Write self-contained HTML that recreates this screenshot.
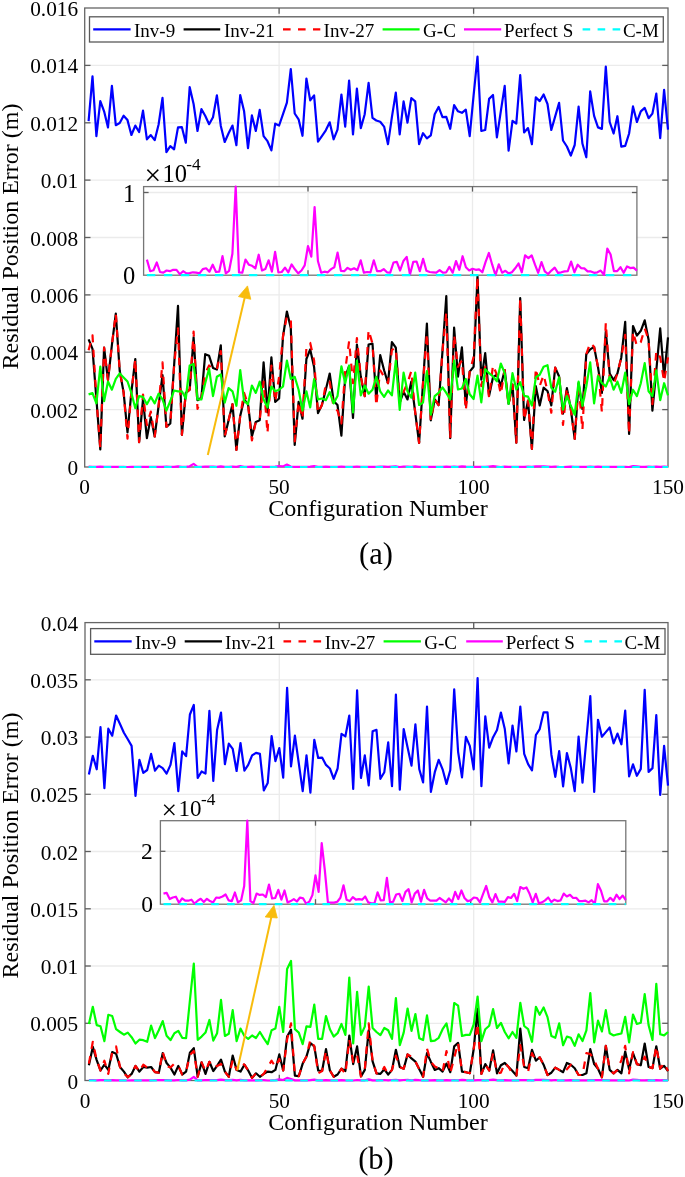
<!DOCTYPE html>
<html><head><meta charset="utf-8"><style>
html,body{margin:0;padding:0;background:#fff;}
svg{display:block;will-change:transform;}
.t{opacity:0.999;}
text{font-family:"Liberation Serif", serif;fill:#000;}
.tl{font-size:21.3px;}
.sup{font-size:17.3px;}
.xx{font-size:29.5px;}
.ten{font-size:24.5px;}
.al{font-size:24px;}
.cap{font-size:30.5px;}
.lg{font-size:19px;}
.g{stroke:#ebebeb;stroke-width:1.3;}
.fr{fill:none;stroke:#666;stroke-width:1.3;}
.ifr .fr{stroke:#767676;}
.lbox{fill:#fff;stroke:#5a5a5a;stroke-width:1.3;}
.tk{stroke:#5e5e5e;stroke-width:1.3;}
.ln{fill:none;stroke-width:2.2;stroke-linejoin:round;}
</style></head><body>
<svg width="685" height="1177" viewBox="0 0 685 1177">
<rect x="84.7" y="8" width="583.3" height="459" fill="#fff"/>
<line x1="84.7" y1="409.6" x2="668" y2="409.6" class="g"/>
<line x1="84.7" y1="352.2" x2="668" y2="352.2" class="g"/>
<line x1="84.7" y1="294.9" x2="668" y2="294.9" class="g"/>
<line x1="84.7" y1="237.5" x2="668" y2="237.5" class="g"/>
<line x1="84.7" y1="180.1" x2="668" y2="180.1" class="g"/>
<line x1="84.7" y1="122.8" x2="668" y2="122.8" class="g"/>
<line x1="84.7" y1="65.4" x2="668" y2="65.4" class="g"/>
<line x1="279.1" y1="8" x2="279.1" y2="467" class="g"/>
<line x1="473.6" y1="8" x2="473.6" y2="467" class="g"/>
<rect x="84.7" y="8" width="583.3" height="459.0" class="fr"/>
<line x1="84.7" y1="409.6" x2="90.5" y2="409.6" class="tk"/>
<line x1="668" y1="409.6" x2="662.2" y2="409.6" class="tk"/>
<line x1="84.7" y1="352.2" x2="90.5" y2="352.2" class="tk"/>
<line x1="668" y1="352.2" x2="662.2" y2="352.2" class="tk"/>
<line x1="84.7" y1="294.9" x2="90.5" y2="294.9" class="tk"/>
<line x1="668" y1="294.9" x2="662.2" y2="294.9" class="tk"/>
<line x1="84.7" y1="237.5" x2="90.5" y2="237.5" class="tk"/>
<line x1="668" y1="237.5" x2="662.2" y2="237.5" class="tk"/>
<line x1="84.7" y1="180.1" x2="90.5" y2="180.1" class="tk"/>
<line x1="668" y1="180.1" x2="662.2" y2="180.1" class="tk"/>
<line x1="84.7" y1="122.8" x2="90.5" y2="122.8" class="tk"/>
<line x1="668" y1="122.8" x2="662.2" y2="122.8" class="tk"/>
<line x1="84.7" y1="65.4" x2="90.5" y2="65.4" class="tk"/>
<line x1="668" y1="65.4" x2="662.2" y2="65.4" class="tk"/>
<line x1="279.1" y1="467" x2="279.1" y2="461.2" class="tk"/>
<line x1="279.1" y1="8" x2="279.1" y2="13.8" class="tk"/>
<line x1="473.6" y1="467" x2="473.6" y2="461.2" class="tk"/>
<line x1="473.6" y1="8" x2="473.6" y2="13.8" class="tk"/>
<polyline points="88.6,121.1 92.5,76.3 96.4,136.1 100.3,101.1 104.1,111.3 108.0,127.4 111.9,85.8 115.8,125.2 119.7,123.0 123.6,115.7 127.5,120.1 131.4,135.0 135.3,125.6 139.1,132.0 143.0,110.6 146.9,139.3 150.8,135.1 154.7,140.2 158.6,124.5 162.5,97.9 166.4,152.2 170.3,146.1 174.1,149.3 178.0,127.4 181.9,127.2 185.8,142.7 189.7,87.2 193.6,104.0 197.5,131.0 201.4,109.1 205.2,115.7 209.1,124.2 213.0,117.2 216.9,95.3 220.8,125.9 224.7,142.0 228.6,133.2 232.5,125.6 236.4,145.2 240.2,95.0 244.1,111.3 248.0,148.1 251.9,115.4 255.8,131.0 259.7,109.9 263.6,136.1 267.5,141.2 271.4,150.4 275.2,123.7 279.1,125.5 283.0,114.2 286.9,102.6 290.8,69.0 294.7,113.5 298.6,119.3 302.5,135.8 306.4,78.5 310.2,100.4 314.1,95.3 318.0,141.7 321.9,136.1 325.8,130.3 329.7,122.3 333.6,139.3 337.5,129.6 341.4,94.5 345.2,126.6 349.1,80.7 353.0,134.4 356.9,88.7 360.8,128.1 364.7,114.2 368.6,82.8 372.5,117.9 376.3,120.5 380.2,121.8 384.1,126.6 388.0,144.2 391.9,117.2 395.8,92.6 399.7,134.4 403.6,101.4 407.5,122.7 411.3,98.2 415.2,101.4 419.1,144.2 423.0,133.2 426.9,138.3 430.8,135.4 434.7,114.2 438.6,106.9 442.5,117.2 446.3,116.9 450.2,128.8 454.1,105.2 458.0,111.3 461.9,112.8 465.8,109.6 469.7,136.1 473.6,95.3 477.5,56.6 481.3,131.0 485.2,130.0 489.1,98.9 493.0,95.0 496.9,137.3 500.8,111.3 504.7,85.8 508.6,150.7 512.5,120.8 516.3,123.7 520.2,75.1 524.1,132.5 528.0,128.1 531.9,144.2 535.8,97.4 539.7,101.1 543.6,94.5 547.5,104.0 551.3,130.0 555.2,116.4 559.1,102.8 563.0,140.5 566.9,146.5 570.8,155.5 574.7,145.0 578.6,106.7 582.4,143.5 586.3,157.3 590.2,91.4 594.1,115.9 598.0,127.4 601.9,128.9 605.8,66.6 609.7,122.0 613.6,133.5 617.4,116.2 621.3,146.6 625.2,145.8 629.1,133.5 633.0,106.4 636.9,122.0 640.8,111.3 644.7,107.9 648.6,118.2 652.4,113.6 656.3,93.7 660.2,138.1 664.1,89.9 668.0,129.7" class="ln" stroke="#0000ff"/>
<polyline points="88.6,339.4 92.5,348.9 96.4,399.2 100.3,449.5 104.1,347.6 108.0,380.2 111.9,345.0 115.8,313.6 119.7,370.7 123.6,392.4 127.5,432.5 131.4,392.0 135.3,359.0 139.1,442.1 143.0,399.4 146.9,438.1 150.8,417.1 154.7,436.5 158.6,405.8 162.5,375.2 166.4,426.8 170.3,423.5 174.1,365.5 178.0,305.8 181.9,434.8 185.8,392.9 189.7,389.7 193.6,337.3 197.5,400.2 201.4,397.7 205.2,354.2 209.1,355.8 213.0,367.9 216.9,369.5 220.8,345.3 224.7,436.5 228.6,420.3 232.5,404.2 236.4,450.0 240.2,416.0 244.1,399.4 248.0,404.2 251.9,436.5 255.8,421.9 259.7,420.3 263.6,362.3 267.5,412.3 271.4,357.4 275.2,401.8 279.1,398.5 283.0,336.5 286.9,311.5 290.8,328.0 294.7,445.0 298.6,401.8 302.5,418.7 306.4,359.0 310.2,349.4 314.1,367.1 318.0,413.1 321.9,405.0 325.8,389.7 329.7,373.5 333.6,401.0 337.5,405.0 341.4,435.6 345.2,376.8 349.1,366.0 353.0,417.9 356.9,344.5 360.8,376.8 364.7,396.1 368.6,344.5 372.5,343.7 376.3,399.4 380.2,355.0 384.1,370.3 388.0,383.2 391.9,342.1 395.8,347.7 399.7,402.5 403.6,391.8 407.5,399.4 411.3,381.6 415.2,412.3 419.1,442.9 423.0,383.2 426.9,323.5 430.8,420.3 434.7,399.4 438.6,405.0 442.5,351.0 446.3,296.1 450.2,438.1 454.1,327.5 458.0,376.6 461.9,347.4 465.8,405.5 469.7,371.6 473.6,366.8 477.5,276.5 481.3,379.7 485.2,353.1 489.1,395.8 493.0,377.3 496.9,374.8 500.8,386.1 504.7,370.0 508.6,403.9 512.5,384.5 516.3,442.6 520.2,298.2 524.1,420.0 528.0,400.6 531.9,449.0 535.8,386.1 539.7,405.5 543.6,387.7 547.5,391.0 551.3,405.5 555.2,367.6 559.1,376.5 563.0,413.7 566.9,388.1 570.8,409.0 574.7,438.9 578.6,383.2 582.4,409.0 586.3,354.2 590.2,349.4 594.1,346.9 598.0,367.1 601.9,392.9 605.8,331.6 609.7,373.5 613.6,380.0 617.4,373.5 621.3,357.4 625.2,321.9 629.1,434.0 633.0,326.0 636.9,335.6 640.8,330.8 644.7,320.3 648.6,339.7 652.4,410.6 656.3,370.3 660.2,328.4 664.1,376.8 668.0,337.3" class="ln" stroke="#000"/>
<polyline points="88.6,350.3 92.5,335.3 96.4,399.2 100.3,448.0 104.1,347.6 108.0,380.2 111.9,345.0 115.8,313.6 119.7,370.7 123.6,392.4 127.5,438.6 131.4,392.0 135.3,359.0 139.1,442.1 143.0,394.5 146.9,425.2 150.8,411.5 154.7,436.5 158.6,405.8 162.5,362.3 166.4,426.8 170.3,423.5 174.1,365.5 178.0,328.4 181.9,434.8 185.8,392.9 189.7,389.7 193.6,331.6 197.5,409.0 201.4,397.7 205.2,373.5 209.1,365.5 213.0,369.0 216.9,369.5 220.8,351.0 224.7,436.5 228.6,420.3 232.5,404.2 236.4,450.0 240.2,416.0 244.1,392.9 248.0,404.2 251.9,440.5 255.8,421.9 259.7,420.3 263.6,381.6 267.5,433.2 271.4,365.5 275.2,401.8 279.1,376.8 283.0,336.5 286.9,316.3 290.8,319.5 294.7,441.3 298.6,401.8 302.5,418.7 306.4,347.7 310.2,342.9 314.1,360.6 318.0,413.1 321.9,405.0 325.8,384.8 329.7,381.6 333.6,407.4 337.5,410.6 341.4,423.5 345.2,370.3 349.1,341.3 353.0,383.2 356.9,338.1 360.8,376.8 364.7,396.1 368.6,330.0 372.5,343.7 376.3,405.8 380.2,370.3 384.1,376.8 388.0,383.2 391.9,350.0 395.8,347.7 399.7,402.5 403.6,391.8 407.5,383.2 411.3,371.1 415.2,412.3 419.1,442.9 423.0,383.2 426.9,333.2 430.8,420.3 434.7,399.4 438.6,405.0 442.5,351.0 446.3,312.3 450.2,438.1 454.1,334.8 458.0,366.8 461.9,360.3 465.8,410.3 469.7,371.6 473.6,357.1 477.5,276.5 481.3,386.1 485.2,366.8 489.1,397.4 493.0,365.2 496.9,374.8 500.8,394.2 504.7,370.0 508.6,405.5 512.5,384.5 516.3,442.6 520.2,298.2 524.1,420.0 528.0,400.6 531.9,449.0 535.8,368.4 539.7,386.1 543.6,374.8 547.5,391.0 551.3,412.7 555.2,367.6 559.1,376.5 563.0,424.8 566.9,388.1 570.8,409.0 574.7,438.9 578.6,383.2 582.4,430.0 586.3,354.2 590.2,342.9 594.1,346.9 598.0,367.1 601.9,412.3 605.8,322.7 609.7,380.0 613.6,384.8 617.4,373.5 621.3,357.4 625.2,334.8 629.1,434.0 633.0,331.6 636.9,346.1 640.8,342.1 644.7,328.4 648.6,339.7 652.4,404.2 656.3,351.0 660.2,357.4 664.1,381.6 668.0,357.4" class="ln" stroke="#ff0000" stroke-dasharray="7.6 7.4"/>
<polyline points="88.6,394.4 92.5,393.1 96.4,403.3 100.3,366.6 104.1,401.2 108.0,381.5 111.9,389.7 115.8,378.8 119.7,373.4 123.6,377.4 127.5,381.5 131.4,392.9 135.3,408.2 139.1,396.1 143.0,396.9 146.9,404.2 150.8,396.9 154.7,403.4 158.6,393.7 162.5,399.4 166.4,410.6 170.3,401.0 174.1,390.5 178.0,391.3 181.9,391.3 185.8,398.5 189.7,365.5 193.6,363.9 197.5,399.4 201.4,399.4 205.2,383.2 209.1,368.7 213.0,396.1 216.9,376.8 220.8,374.4 224.7,402.6 228.6,388.1 232.5,391.3 236.4,405.8 240.2,370.0 244.1,401.0 248.0,404.2 251.9,385.6 255.8,392.9 259.7,381.6 263.6,399.4 267.5,407.4 271.4,386.5 275.2,391.3 279.1,389.7 283.0,386.5 286.9,360.6 290.8,378.8 294.7,376.8 298.6,389.7 302.5,410.6 306.4,391.3 310.2,407.4 314.1,379.2 318.0,399.4 321.9,398.5 325.8,400.2 329.7,392.1 333.6,403.4 337.5,396.1 341.4,366.3 345.2,383.2 349.1,365.5 353.0,412.3 356.9,360.6 360.8,395.3 364.7,385.6 368.6,393.7 372.5,389.7 376.3,376.8 380.2,391.3 384.1,396.9 388.0,390.5 391.9,395.3 395.8,360.6 399.7,409.8 403.6,372.7 407.5,391.3 411.3,397.7 415.2,372.7 419.1,405.0 423.0,402.6 426.9,371.1 430.8,414.7 434.7,396.1 438.6,392.9 442.5,387.3 446.3,392.9 450.2,399.4 454.1,360.5 458.0,389.5 461.9,388.5 465.8,378.9 469.7,394.2 473.6,399.0 477.5,375.6 481.3,402.3 485.2,369.2 489.1,373.2 493.0,376.5 496.9,381.3 500.8,363.5 504.7,373.2 508.6,403.9 512.5,373.2 516.3,389.4 520.2,382.1 524.1,395.8 528.0,396.6 531.9,405.5 535.8,377.3 539.7,374.8 543.6,366.8 547.5,365.2 551.3,387.7 555.2,391.8 559.1,377.3 563.0,409.7 566.9,396.1 570.8,405.8 574.7,414.7 578.6,381.6 582.4,405.8 586.3,386.5 590.2,362.3 594.1,403.4 598.0,376.0 601.9,383.2 605.8,386.5 609.7,376.8 613.6,389.7 617.4,381.6 621.3,392.9 625.2,372.7 629.1,404.2 633.0,389.7 636.9,396.1 640.8,383.2 644.7,363.1 648.6,391.3 652.4,396.1 656.3,370.3 660.2,400.2 664.1,383.2 668.0,395.3" class="ln" stroke="#00ff00"/>
<polyline points="88.6,466.5 92.5,466.9 96.4,466.8 100.3,466.6 104.1,466.9 108.0,466.9 111.9,466.8 115.8,466.9 119.7,466.8 123.6,466.8 127.5,467.0 131.4,466.9 135.3,466.9 139.1,466.9 143.0,466.9 146.9,466.9 150.8,466.9 154.7,466.8 158.6,466.8 162.5,466.9 166.4,466.6 170.3,466.9 174.1,466.9 178.0,466.3 181.9,466.9 185.8,466.8 189.7,466.3 193.6,463.9 197.5,466.9 201.4,466.9 205.2,466.5 209.1,466.6 213.0,466.7 216.9,466.8 220.8,466.3 224.7,466.8 228.6,466.8 232.5,466.5 236.4,466.9 240.2,466.2 244.1,466.9 248.0,466.9 251.9,466.7 255.8,466.9 259.7,466.6 263.6,466.8 267.5,466.9 271.4,466.8 275.2,466.7 279.1,466.0 283.0,466.4 286.9,464.6 290.8,466.5 294.7,466.9 298.6,466.9 302.5,466.9 306.4,466.8 310.2,466.7 314.1,466.2 318.0,466.8 321.9,466.9 325.8,466.7 329.7,466.8 333.6,466.8 337.5,466.8 341.4,466.5 345.2,466.9 349.1,466.9 353.0,466.9 356.9,466.5 360.8,466.9 364.7,466.9 368.6,466.8 372.5,466.9 376.3,466.9 380.2,466.6 384.1,466.5 388.0,466.8 391.9,466.5 395.8,466.4 399.7,467.0 403.6,466.5 407.5,466.5 411.3,466.9 415.2,466.4 419.1,466.8 423.0,466.9 426.9,466.9 430.8,466.9 434.7,466.8 438.6,466.9 442.5,466.9 446.3,466.7 450.2,466.9 454.1,466.5 458.0,466.8 461.9,466.3 465.8,466.7 469.7,466.8 473.6,466.8 477.5,466.8 481.3,466.8 485.2,466.9 489.1,466.5 493.0,466.2 496.9,466.6 500.8,467.0 504.7,466.6 508.6,466.9 512.5,466.8 516.3,466.9 520.2,466.9 524.1,466.8 528.0,466.6 531.9,466.9 535.8,466.3 539.7,466.4 543.6,466.3 547.5,466.6 551.3,466.9 555.2,466.5 559.1,466.9 563.0,467.0 566.9,466.8 570.8,466.7 574.7,466.9 578.6,466.9 582.4,466.9 586.3,466.9 590.2,466.5 594.1,466.9 598.0,466.6 601.9,466.8 605.8,466.8 609.7,466.9 613.6,466.9 617.4,466.9 621.3,466.9 625.2,466.8 629.1,467.0 633.0,466.1 636.9,466.3 640.8,466.9 644.7,466.9 648.6,466.7 652.4,466.9 656.3,466.7 660.2,466.8 664.1,466.7 668.0,466.8" class="ln" stroke="#ff00ff"/>
<polyline points="88.6,467.0 92.5,467.0 96.4,467.0 100.3,467.0 104.1,467.0 108.0,467.0 111.9,467.0 115.8,467.0 119.7,467.0 123.6,467.0 127.5,467.0 131.4,467.0 135.3,467.0 139.1,467.0 143.0,467.0 146.9,467.0 150.8,467.0 154.7,467.0 158.6,467.0 162.5,467.0 166.4,467.0 170.3,467.0 174.1,467.0 178.0,467.0 181.9,467.0 185.8,467.0 189.7,467.0 193.6,467.0 197.5,467.0 201.4,467.0 205.2,467.0 209.1,467.0 213.0,467.0 216.9,467.0 220.8,467.0 224.7,467.0 228.6,467.0 232.5,467.0 236.4,467.0 240.2,467.0 244.1,467.0 248.0,467.0 251.9,467.0 255.8,467.0 259.7,467.0 263.6,467.0 267.5,467.0 271.4,467.0 275.2,467.0 279.1,467.0 283.0,467.0 286.9,467.0 290.8,467.0 294.7,467.0 298.6,467.0 302.5,467.0 306.4,467.0 310.2,467.0 314.1,467.0 318.0,467.0 321.9,467.0 325.8,467.0 329.7,467.0 333.6,467.0 337.5,467.0 341.4,467.0 345.2,467.0 349.1,467.0 353.0,467.0 356.9,467.0 360.8,467.0 364.7,467.0 368.6,467.0 372.5,467.0 376.3,467.0 380.2,467.0 384.1,467.0 388.0,467.0 391.9,467.0 395.8,467.0 399.7,467.0 403.6,467.0 407.5,467.0 411.3,467.0 415.2,467.0 419.1,467.0 423.0,467.0 426.9,467.0 430.8,467.0 434.7,467.0 438.6,467.0 442.5,467.0 446.3,467.0 450.2,467.0 454.1,467.0 458.0,467.0 461.9,467.0 465.8,467.0 469.7,467.0 473.6,467.0 477.5,467.0 481.3,467.0 485.2,467.0 489.1,467.0 493.0,467.0 496.9,467.0 500.8,467.0 504.7,467.0 508.6,467.0 512.5,467.0 516.3,467.0 520.2,467.0 524.1,467.0 528.0,467.0 531.9,467.0 535.8,467.0 539.7,467.0 543.6,467.0 547.5,467.0 551.3,467.0 555.2,467.0 559.1,467.0 563.0,467.0 566.9,467.0 570.8,467.0 574.7,467.0 578.6,467.0 582.4,467.0 586.3,467.0 590.2,467.0 594.1,467.0 598.0,467.0 601.9,467.0 605.8,467.0 609.7,467.0 613.6,467.0 617.4,467.0 621.3,467.0 625.2,467.0 629.1,467.0 633.0,467.0 636.9,467.0 640.8,467.0 644.7,467.0 648.6,467.0 652.4,467.0 656.3,467.0 660.2,467.0 664.1,467.0 668.0,467.0" class="ln" stroke="#00ffff" stroke-dasharray="7.5 7.6"/>
<rect x="89.5" y="16.8" width="573.8" height="25.2" class="lbox"/>
<line x1="93.2" y1="29.4" x2="130.6" y2="29.4" stroke="#0000ff" stroke-width="2.2"/>
<text x="134.0" y="36.8" class="lg">Inv-9</text>
<line x1="183.6" y1="29.4" x2="220.2" y2="29.4" stroke="#000000" stroke-width="2.2"/>
<text x="224.0" y="36.8" class="lg">Inv-21</text>
<line x1="283" y1="29.4" x2="320.3" y2="29.4" stroke="#ff0000" stroke-width="2.2" stroke-dasharray="7.6 7.4"/>
<text x="323.6" y="36.8" class="lg">Inv-27</text>
<line x1="382.6" y1="29.4" x2="419.6" y2="29.4" stroke="#00ff00" stroke-width="2.2"/>
<text x="423.1" y="36.8" class="lg">G-C</text>
<line x1="464" y1="29.4" x2="501.2" y2="29.4" stroke="#ff00ff" stroke-width="2.2"/>
<text x="504.1" y="36.8" class="lg">Perfect S</text>
<line x1="582.6" y1="29.4" x2="620.3" y2="29.4" stroke="#00ffff" stroke-width="2.2" stroke-dasharray="7.6 7.4"/>
<text x="622.9" y="36.8" class="lg">C-M</text>
<rect x="143.6" y="186.6" width="493.3" height="88.6" fill="#fff"/>
<line x1="143.6" y1="192.5" x2="636.9" y2="192.5" class="g"/>
<line x1="308.0" y1="186.6" x2="308.0" y2="275.2" class="g"/>
<line x1="472.5" y1="186.6" x2="472.5" y2="275.2" class="g"/>
<g class="ifr"><rect x="143.6" y="186.6" width="493.3" height="88.6" class="fr"/>
<line x1="143.6" y1="192.5" x2="148.6" y2="192.5" class="tk"/>
<line x1="636.9" y1="192.5" x2="631.9" y2="192.5" class="tk"/>
<line x1="308.0" y1="275.2" x2="308.0" y2="270.2" class="tk"/>
<line x1="308.0" y1="186.6" x2="308.0" y2="191.6" class="tk"/>
<line x1="472.5" y1="275.2" x2="472.5" y2="270.2" class="tk"/>
<line x1="472.5" y1="186.6" x2="472.5" y2="191.6" class="tk"/></g>
<polyline points="146.9,259.6 150.2,271.2 153.5,270.2 156.8,262.5 160.0,272.0 163.3,272.7 166.6,270.5 169.9,271.2 173.2,269.8 176.5,269.8 179.8,274.2 183.1,271.2 186.4,273.4 189.6,273.1 192.9,272.3 196.2,272.7 199.5,273.4 202.8,269.1 206.1,268.3 209.4,271.7 212.7,264.7 216.0,272.0 219.2,271.7 222.5,256.2 225.8,273.4 229.1,270.8 232.4,253.7 235.7,186.6 239.0,272.5 242.3,272.7 245.5,259.6 248.8,264.7 252.1,265.8 255.4,268.3 258.7,254.7 262.0,270.5 265.3,269.1 268.6,260.3 271.9,271.7 275.1,251.8 278.4,272.3 281.7,272.0 285.0,267.6 288.3,272.3 291.6,264.4 294.9,269.3 298.2,273.4 301.5,270.5 304.7,265.4 308.0,246.0 311.3,256.6 314.6,207.0 317.9,261.0 321.2,272.7 324.5,271.7 327.8,272.3 331.1,269.1 334.3,267.2 337.6,252.6 340.9,270.8 344.2,271.2 347.5,267.9 350.8,269.8 354.1,268.3 357.4,270.2 360.7,260.3 363.9,272.7 367.2,272.0 370.5,272.3 373.8,260.3 377.1,271.2 380.4,271.2 383.7,269.1 387.0,272.3 390.2,272.7 393.5,262.5 396.8,261.8 400.1,270.5 403.4,261.0 406.7,256.9 410.0,274.6 413.3,261.8 416.6,261.5 419.8,271.2 423.1,258.8 426.4,270.8 429.7,272.0 433.0,272.3 436.3,272.7 439.6,270.2 442.9,272.7 446.2,272.3 449.4,266.9 452.7,272.7 456.0,261.0 459.3,269.8 462.6,256.2 465.9,267.3 469.2,270.5 472.5,268.8 475.8,269.8 479.0,269.3 482.3,272.3 485.6,261.8 488.9,253.0 492.2,264.7 495.5,275.2 498.8,264.4 502.1,272.7 505.4,270.8 508.6,273.4 511.9,272.3 515.2,268.3 518.5,263.5 521.8,272.3 525.1,255.3 528.4,258.2 531.7,255.4 535.0,264.7 538.2,272.8 541.5,262.1 544.8,271.4 548.1,274.0 551.4,270.6 554.7,267.7 558.0,272.8 561.3,272.3 564.5,271.4 567.8,271.1 571.1,261.6 574.4,272.3 577.7,264.7 581.0,268.1 584.3,268.4 587.6,271.4 590.9,271.4 594.1,272.8 597.4,272.3 600.7,270.6 604.0,274.8 607.3,248.6 610.6,254.5 613.9,271.1 617.2,271.1 620.5,267.2 623.7,272.8 627.0,266.4 630.3,268.1 633.6,267.7 636.9,270.6" class="ln" stroke="#ff00ff"/>
<polyline points="146.9,275.2 150.2,275.2 153.5,275.2 156.8,275.2 160.0,275.2 163.3,275.2 166.6,275.2 169.9,275.2 173.2,275.2 176.5,275.2 179.8,275.2 183.1,275.2 186.4,275.2 189.6,275.2 192.9,275.2 196.2,275.2 199.5,275.2 202.8,275.2 206.1,275.2 209.4,275.2 212.7,275.2 216.0,275.2 219.2,275.2 222.5,275.2 225.8,275.2 229.1,275.2 232.4,275.2 235.7,275.2 239.0,275.2 242.3,275.2 245.5,275.2 248.8,275.2 252.1,275.2 255.4,275.2 258.7,275.2 262.0,275.2 265.3,275.2 268.6,275.2 271.9,275.2 275.1,275.2 278.4,275.2 281.7,275.2 285.0,275.2 288.3,275.2 291.6,275.2 294.9,275.2 298.2,275.2 301.5,275.2 304.7,275.2 308.0,275.2 311.3,275.2 314.6,275.2 317.9,275.2 321.2,275.2 324.5,275.2 327.8,275.2 331.1,275.2 334.3,275.2 337.6,275.2 340.9,275.2 344.2,275.2 347.5,275.2 350.8,275.2 354.1,275.2 357.4,275.2 360.7,275.2 363.9,275.2 367.2,275.2 370.5,275.2 373.8,275.2 377.1,275.2 380.4,275.2 383.7,275.2 387.0,275.2 390.2,275.2 393.5,275.2 396.8,275.2 400.1,275.2 403.4,275.2 406.7,275.2 410.0,275.2 413.3,275.2 416.6,275.2 419.8,275.2 423.1,275.2 426.4,275.2 429.7,275.2 433.0,275.2 436.3,275.2 439.6,275.2 442.9,275.2 446.2,275.2 449.4,275.2 452.7,275.2 456.0,275.2 459.3,275.2 462.6,275.2 465.9,275.2 469.2,275.2 472.5,275.2 475.8,275.2 479.0,275.2 482.3,275.2 485.6,275.2 488.9,275.2 492.2,275.2 495.5,275.2 498.8,275.2 502.1,275.2 505.4,275.2 508.6,275.2 511.9,275.2 515.2,275.2 518.5,275.2 521.8,275.2 525.1,275.2 528.4,275.2 531.7,275.2 535.0,275.2 538.2,275.2 541.5,275.2 544.8,275.2 548.1,275.2 551.4,275.2 554.7,275.2 558.0,275.2 561.3,275.2 564.5,275.2 567.8,275.2 571.1,275.2 574.4,275.2 577.7,275.2 581.0,275.2 584.3,275.2 587.6,275.2 590.9,275.2 594.1,275.2 597.4,275.2 600.7,275.2 604.0,275.2 607.3,275.2 610.6,275.2 613.9,275.2 617.2,275.2 620.5,275.2 623.7,275.2 627.0,275.2 630.3,275.2 633.6,275.2 636.9,275.2" class="ln" stroke="#00ffff" stroke-dasharray="8.4 8.6"/>
<text x="135.3" y="202.3" text-anchor="end" class="tl" style="font-size:24.5px">1</text>
<text x="135.3" y="284" text-anchor="end" class="tl" style="font-size:24.5px">0</text>
<text x="144.4" y="184.5" class="xx">×</text><text x="162.6" y="181.8" class="ten">10</text><text x="186.2" y="169.8" class="sup">-4</text>
<line x1="207.8" y1="455" x2="245.5" y2="294.3" stroke="#f8bc0c" stroke-width="2"/><polygon points="247.5,285.9 238.5,296.6 250.8,299.3" fill="#f8bc0c" stroke="#f8bc0c" stroke-width="0.8" stroke-linejoin="round"/>
<text x="78.1" y="475.0" text-anchor="end" class="tl">0</text>
<text x="78.1" y="417.6" text-anchor="end" class="tl">0.002</text>
<text x="78.1" y="360.2" text-anchor="end" class="tl">0.004</text>
<text x="78.1" y="302.9" text-anchor="end" class="tl">0.006</text>
<text x="78.1" y="245.5" text-anchor="end" class="tl">0.008</text>
<text x="78.1" y="188.1" text-anchor="end" class="tl">0.01</text>
<text x="78.1" y="130.8" text-anchor="end" class="tl">0.012</text>
<text x="78.1" y="73.4" text-anchor="end" class="tl">0.014</text>
<text x="78.1" y="16.0" text-anchor="end" class="tl">0.016</text>
<text x="84.7" y="493.8" text-anchor="middle" class="tl">0</text>
<text x="279.1" y="493.8" text-anchor="middle" class="tl">50</text>
<text x="473.6" y="493.8" text-anchor="middle" class="tl">100</text>
<text x="668.0" y="493.8" text-anchor="middle" class="tl">150</text>
<text x="378" y="516" text-anchor="middle" class="al">Configuration Number</text>
<text transform="translate(18,236.5) rotate(-90)" text-anchor="middle" class="al">Residual Position Error (m)</text>
<text x="376" y="564" text-anchor="middle" class="cap">(a)</text>
<rect x="85" y="622.6" width="583" height="457.9" fill="#fff"/>
<line x1="85" y1="1023.3" x2="668" y2="1023.3" class="g"/>
<line x1="85" y1="966.0" x2="668" y2="966.0" class="g"/>
<line x1="85" y1="908.8" x2="668" y2="908.8" class="g"/>
<line x1="85" y1="851.5" x2="668" y2="851.5" class="g"/>
<line x1="85" y1="794.3" x2="668" y2="794.3" class="g"/>
<line x1="85" y1="737.1" x2="668" y2="737.1" class="g"/>
<line x1="85" y1="679.8" x2="668" y2="679.8" class="g"/>
<line x1="279.3" y1="622.6" x2="279.3" y2="1080.5" class="g"/>
<line x1="473.7" y1="622.6" x2="473.7" y2="1080.5" class="g"/>
<rect x="85" y="622.6" width="583.0" height="457.9" class="fr"/>
<line x1="85" y1="1023.3" x2="90.8" y2="1023.3" class="tk"/>
<line x1="668" y1="1023.3" x2="662.2" y2="1023.3" class="tk"/>
<line x1="85" y1="966.0" x2="90.8" y2="966.0" class="tk"/>
<line x1="668" y1="966.0" x2="662.2" y2="966.0" class="tk"/>
<line x1="85" y1="908.8" x2="90.8" y2="908.8" class="tk"/>
<line x1="668" y1="908.8" x2="662.2" y2="908.8" class="tk"/>
<line x1="85" y1="851.5" x2="90.8" y2="851.5" class="tk"/>
<line x1="668" y1="851.5" x2="662.2" y2="851.5" class="tk"/>
<line x1="85" y1="794.3" x2="90.8" y2="794.3" class="tk"/>
<line x1="668" y1="794.3" x2="662.2" y2="794.3" class="tk"/>
<line x1="85" y1="737.1" x2="90.8" y2="737.1" class="tk"/>
<line x1="668" y1="737.1" x2="662.2" y2="737.1" class="tk"/>
<line x1="85" y1="679.8" x2="90.8" y2="679.8" class="tk"/>
<line x1="668" y1="679.8" x2="662.2" y2="679.8" class="tk"/>
<line x1="279.3" y1="1080.5" x2="279.3" y2="1074.7" class="tk"/>
<line x1="279.3" y1="622.6" x2="279.3" y2="628.4" class="tk"/>
<line x1="473.7" y1="1080.5" x2="473.7" y2="1074.7" class="tk"/>
<line x1="473.7" y1="622.6" x2="473.7" y2="628.4" class="tk"/>
<polyline points="88.9,774.4 92.8,755.8 96.7,769.3 100.5,727.2 104.4,788.2 108.3,728.7 112.2,735.7 116.1,715.5 120.0,724.0 123.9,732.8 127.8,739.3 131.6,745.9 135.5,795.8 139.4,759.8 143.3,772.9 147.2,770.0 151.1,753.9 155.0,770.7 158.8,765.6 162.7,768.1 166.6,773.6 170.5,764.9 174.4,743.0 178.3,791.2 182.2,751.4 186.1,756.1 189.9,714.5 193.8,705.0 197.7,778.0 201.6,771.5 205.5,773.6 209.4,710.9 213.3,780.9 217.1,729.9 221.0,712.6 224.9,764.2 228.8,743.7 232.7,748.8 236.6,771.0 240.5,743.0 244.4,770.7 248.2,764.9 252.1,755.4 256.0,752.9 259.9,753.9 263.8,790.4 267.7,783.1 271.6,736.0 275.4,761.2 279.3,748.1 283.2,777.7 287.1,687.8 291.0,766.4 294.9,735.7 298.8,763.4 302.7,791.2 306.5,755.4 310.4,792.6 314.3,739.8 318.2,757.9 322.1,757.6 326.0,764.9 329.9,768.5 333.7,778.8 337.6,768.5 341.5,733.9 345.4,736.4 349.3,715.5 353.2,789.0 357.1,690.4 361.0,778.0 364.8,755.4 368.7,785.3 372.6,731.3 376.5,729.8 380.4,778.8 384.3,772.2 388.2,742.3 392.0,786.1 395.9,694.5 399.8,789.7 403.7,729.1 407.6,747.4 411.5,765.6 415.4,724.3 419.3,769.3 423.1,782.4 427.0,706.5 430.9,791.9 434.8,772.2 438.7,759.8 442.6,769.3 446.5,783.9 450.3,770.0 454.2,689.3 458.1,751.8 462.0,777.3 465.9,736.9 469.8,745.9 473.7,769.3 477.6,678.0 481.4,786.1 485.3,716.4 489.2,747.7 493.1,737.2 497.0,729.9 500.9,712.6 504.8,729.1 508.6,763.4 512.5,725.5 516.4,751.5 520.3,706.5 524.2,753.9 528.1,764.2 532.0,770.4 535.9,735.0 539.7,729.1 543.6,712.3 547.5,712.3 551.4,754.7 555.3,776.9 559.2,751.0 563.1,786.5 566.9,753.0 570.8,768.1 574.7,791.1 578.6,736.7 582.5,782.7 586.4,739.0 590.3,696.1 594.2,791.9 598.0,719.8 601.9,736.7 605.8,732.1 609.7,727.5 613.6,743.3 617.5,733.6 621.4,744.3 625.2,710.6 629.1,776.5 633.0,764.3 636.9,775.8 640.8,768.9 644.7,689.9 648.6,771.9 652.5,768.1 656.3,715.2 660.2,794.9 664.1,745.9 668.0,785.7" class="ln" stroke="#0000ff"/>
<polyline points="88.9,1065.3 92.8,1046.9 96.7,1060.1 100.5,1070.5 104.4,1064.7 108.3,1069.9 112.2,1052.1 116.1,1053.8 120.0,1067.0 123.9,1071.6 127.8,1077.3 131.6,1073.9 135.5,1065.9 139.4,1071.6 143.3,1067.0 147.2,1067.6 151.1,1067.0 155.0,1072.2 158.8,1072.7 162.7,1053.2 166.6,1063.0 170.5,1067.6 174.4,1074.5 178.3,1065.9 182.2,1074.5 186.1,1071.6 189.9,1052.7 193.8,1048.1 197.7,1076.8 201.6,1062.4 205.5,1073.9 209.4,1061.8 213.3,1071.0 217.1,1065.9 221.0,1059.6 224.9,1071.6 228.8,1076.8 232.7,1055.5 236.6,1069.9 240.5,1071.6 244.4,1064.7 248.2,1070.5 252.1,1077.9 256.0,1073.3 259.9,1076.8 263.8,1073.9 267.7,1071.6 271.6,1072.2 275.4,1069.9 279.3,1054.4 283.2,1070.5 287.1,1036.6 291.0,1029.7 294.9,1075.6 298.8,1076.2 302.7,1063.6 306.5,1056.4 310.4,1043.2 314.3,1046.4 318.2,1070.5 322.1,1071.0 326.0,1049.2 329.9,1070.5 333.7,1076.8 337.6,1074.5 341.5,1068.7 345.4,1071.0 349.3,1035.5 353.2,1064.1 357.1,1046.4 361.0,1076.5 364.8,1069.9 368.7,1030.3 372.6,1061.3 376.5,1073.3 380.4,1073.9 384.3,1069.3 388.2,1074.5 392.0,1069.9 395.9,1049.8 399.8,1067.0 403.7,1068.7 407.6,1054.4 411.5,1058.4 415.4,1061.6 419.3,1069.3 423.1,1076.8 427.0,1053.2 430.9,1061.9 434.8,1069.9 438.7,1068.2 442.6,1071.6 446.5,1063.6 450.3,1072.2 454.2,1046.4 458.1,1042.9 462.0,1071.6 465.9,1072.2 469.8,1073.3 473.7,1049.0 477.6,1008.5 481.4,1073.9 485.3,1064.1 489.2,1070.5 493.1,1050.4 497.0,1073.3 500.9,1065.3 504.8,1063.0 508.6,1067.0 512.5,1071.0 516.4,1075.6 520.3,1028.6 524.2,1067.0 528.1,1068.2 532.0,1049.8 535.9,1060.7 539.7,1057.3 543.6,1064.7 547.5,1075.0 551.4,1072.7 555.3,1067.6 559.2,1069.9 563.1,1072.2 566.9,1063.0 570.8,1064.7 574.7,1068.2 578.6,1075.0 582.5,1075.0 586.4,1073.3 590.3,1049.2 594.2,1064.1 598.0,1068.7 601.9,1077.3 605.8,1045.8 609.7,1069.9 613.6,1073.3 617.5,1069.9 621.4,1073.3 625.2,1051.5 629.1,1069.3 633.0,1053.0 636.9,1064.1 640.8,1065.3 644.7,1043.5 648.6,1067.0 652.5,1068.1 656.3,1046.3 660.2,1068.7 664.1,1065.8 668.0,1071.0" class="ln" stroke="#000"/>
<polyline points="88.9,1063.6 92.8,1041.8 96.7,1060.1 100.5,1070.5 104.4,1060.7 108.3,1073.9 112.2,1052.1 116.1,1046.4 120.0,1067.0 123.9,1073.3 127.8,1077.3 131.6,1073.9 135.5,1065.9 139.4,1071.6 143.3,1064.7 147.2,1067.6 151.1,1067.0 155.0,1072.2 158.8,1072.7 162.7,1051.5 166.6,1065.9 170.5,1067.6 174.4,1063.6 178.3,1065.9 182.2,1074.5 186.1,1071.6 189.9,1055.0 193.8,1051.0 197.7,1076.8 201.6,1062.4 205.5,1071.0 209.4,1061.8 213.3,1067.6 217.1,1065.9 221.0,1064.0 224.9,1071.6 228.8,1076.8 232.7,1060.1 236.6,1069.9 240.5,1062.4 244.4,1064.7 248.2,1070.5 252.1,1077.9 256.0,1073.3 259.9,1076.8 263.8,1073.9 267.7,1067.0 271.6,1060.7 275.4,1067.0 279.3,1059.0 283.2,1070.5 287.1,1039.5 291.0,1023.4 294.9,1075.6 298.8,1076.2 302.7,1063.6 306.5,1056.4 310.4,1039.5 314.3,1046.4 318.2,1073.3 322.1,1071.0 326.0,1051.0 329.9,1070.5 333.7,1076.8 337.6,1074.5 341.5,1068.7 345.4,1073.9 349.3,1039.5 353.2,1062.0 357.1,1055.5 361.0,1076.5 364.8,1069.9 368.7,1023.4 372.6,1061.3 376.5,1073.3 380.4,1073.9 384.3,1067.0 388.2,1074.5 392.0,1069.9 395.9,1055.5 399.8,1067.0 403.7,1068.7 407.6,1054.4 411.5,1056.7 415.4,1061.6 419.3,1069.3 423.1,1076.8 427.0,1048.7 430.9,1061.9 434.8,1066.4 438.7,1068.2 442.6,1071.6 446.5,1051.0 450.3,1073.3 454.2,1057.8 458.1,1042.9 462.0,1071.6 465.9,1072.2 469.8,1073.3 473.7,1049.0 477.6,1023.4 481.4,1073.9 485.3,1064.1 489.2,1070.5 493.1,1053.2 497.0,1073.3 500.9,1072.7 504.8,1063.0 508.6,1067.0 512.5,1073.9 516.4,1075.6 520.3,1045.2 524.2,1067.0 528.1,1071.6 532.0,1053.2 535.9,1060.7 539.7,1057.3 543.6,1064.7 547.5,1075.0 551.4,1072.7 555.3,1067.6 559.2,1069.9 563.1,1072.2 566.9,1069.3 570.8,1064.7 574.7,1068.2 578.6,1075.0 582.5,1075.0 586.4,1053.2 590.3,1054.0 594.2,1060.0 598.0,1068.7 601.9,1077.3 605.8,1045.8 609.7,1069.9 613.6,1073.3 617.5,1069.9 621.4,1060.1 625.2,1045.8 629.1,1073.3 633.0,1052.1 636.9,1064.1 640.8,1065.3 644.7,1056.7 648.6,1067.0 652.5,1068.1 656.3,1046.3 660.2,1068.7 664.1,1063.0 668.0,1071.0" class="ln" stroke="#ff0000" stroke-dasharray="7.6 7.4"/>
<polyline points="88.9,1024.0 92.8,1006.8 96.7,1025.1 100.5,1026.3 104.4,1041.2 108.3,1014.8 112.2,1016.0 116.1,1029.2 120.0,1032.0 123.9,1034.7 127.8,1032.6 131.6,1037.2 135.5,1043.5 139.4,1039.7 143.3,1040.2 147.2,1041.8 151.1,1025.5 155.0,1038.1 158.8,1030.3 162.7,1021.1 166.6,1035.8 170.5,1040.1 174.4,1033.2 178.3,1030.9 182.2,1037.8 186.1,1038.1 189.9,1000.5 193.8,963.5 197.7,1039.8 201.6,1036.6 205.5,1032.6 209.4,1020.0 213.3,1040.6 217.1,1033.2 221.0,999.9 224.9,1036.0 228.8,1033.7 232.7,1010.2 236.6,1041.2 240.5,1028.6 244.4,1036.0 248.2,1038.9 252.1,1035.5 256.0,1038.0 259.9,1032.0 263.8,1038.3 267.7,1044.1 271.6,1030.3 275.4,1028.6 279.3,1006.8 283.2,1032.0 287.1,968.9 291.0,960.9 294.9,1029.2 298.8,1032.6 302.7,1044.1 306.5,1026.3 310.4,1026.8 314.3,1004.5 318.2,1038.9 322.1,1038.9 326.0,1016.0 329.9,1029.2 333.7,1036.6 337.6,1033.2 341.5,1024.0 345.4,1034.9 349.3,977.5 353.2,1043.5 357.1,991.9 361.0,1034.9 364.8,1026.6 368.7,986.7 372.6,1028.0 376.5,1032.0 380.4,1035.1 384.3,1028.0 388.2,1030.3 392.0,1038.9 395.9,998.2 399.8,1045.2 403.7,1032.6 407.6,1008.5 411.5,1030.9 415.4,1014.0 419.3,1038.3 423.1,1040.1 427.0,1015.4 430.9,1041.2 434.8,1040.6 438.7,1037.8 442.6,1029.2 446.5,1023.4 450.3,1041.2 454.2,1003.0 458.1,1005.6 462.0,1036.0 465.9,1034.9 469.8,1034.9 473.7,1024.5 477.6,996.5 481.4,1041.2 485.3,1029.2 489.2,1025.7 493.1,1009.1 497.0,1028.0 500.9,1022.8 504.8,1032.0 508.6,1038.3 512.5,1032.0 516.4,1037.8 520.3,1002.8 524.2,1026.0 528.1,1029.2 532.0,1041.8 535.9,1006.8 539.7,1014.8 543.6,1007.4 547.5,1017.1 551.4,1036.0 555.3,1037.8 559.2,1023.4 563.1,1045.2 566.9,1036.6 570.8,1037.8 574.7,1045.8 578.6,1034.3 582.5,1041.0 586.4,1030.3 590.3,993.0 594.2,1042.3 598.0,1020.6 601.9,1031.5 605.8,1010.2 609.7,1033.2 613.6,1035.5 617.5,1034.3 621.4,1033.5 625.2,1016.8 629.1,1042.3 633.0,1014.5 636.9,1024.0 640.8,1022.8 644.7,994.2 648.6,1025.1 652.5,1040.0 656.3,983.8 660.2,1034.3 664.1,1035.4 668.0,1032.0" class="ln" stroke="#00ff00"/>
<polyline points="88.9,1080.0 92.8,1080.0 96.7,1080.3 100.5,1080.2 104.4,1080.2 108.3,1080.4 112.2,1080.2 116.1,1080.3 120.0,1080.3 123.9,1080.3 127.8,1080.5 131.6,1080.3 135.5,1080.3 139.4,1080.4 143.3,1080.3 147.2,1080.4 151.1,1080.4 155.0,1080.2 158.8,1080.2 162.7,1080.2 166.6,1080.1 170.5,1080.3 174.4,1080.4 178.3,1080.0 182.2,1080.4 186.1,1080.3 189.9,1079.7 193.8,1076.9 197.7,1080.4 201.6,1080.4 205.5,1080.0 209.4,1080.1 213.3,1080.1 217.1,1080.2 221.0,1079.7 224.9,1080.2 228.8,1080.2 232.7,1079.9 236.6,1080.3 240.5,1079.9 244.4,1080.4 248.2,1080.4 252.1,1080.3 256.0,1080.4 259.9,1080.2 263.8,1080.2 267.7,1080.5 271.6,1080.4 275.4,1080.1 279.3,1079.3 283.2,1080.0 287.1,1077.9 291.0,1079.0 294.9,1080.4 298.8,1080.4 302.7,1080.4 306.5,1080.4 310.4,1080.2 314.3,1079.7 318.2,1080.3 322.1,1080.4 326.0,1080.2 329.9,1080.3 333.7,1080.3 337.6,1080.3 341.5,1080.2 345.4,1080.4 349.3,1080.5 353.2,1080.5 357.1,1080.0 361.0,1080.3 364.8,1080.3 368.7,1079.4 372.6,1080.4 376.5,1080.4 380.4,1080.1 384.3,1080.0 388.2,1080.4 392.0,1080.0 395.9,1079.9 399.8,1080.4 403.7,1080.0 407.6,1079.9 411.5,1080.4 415.4,1079.9 419.3,1080.2 423.1,1080.3 427.0,1080.3 430.9,1080.3 434.8,1080.2 438.7,1080.3 442.6,1080.4 446.5,1080.2 450.3,1080.4 454.2,1080.0 458.1,1080.3 462.0,1079.9 465.9,1080.2 469.8,1080.4 473.7,1080.3 477.6,1080.2 481.4,1080.2 485.3,1080.4 489.2,1080.0 493.1,1079.7 497.0,1080.2 500.9,1080.4 504.8,1080.1 508.6,1080.4 512.5,1080.4 516.4,1080.4 520.3,1080.2 524.2,1080.2 528.1,1080.0 532.0,1080.4 535.9,1079.8 539.7,1079.8 543.6,1079.8 547.5,1080.0 551.4,1080.4 555.3,1080.0 559.2,1080.5 563.1,1080.4 566.9,1080.3 570.8,1080.2 574.7,1080.4 578.6,1080.3 582.5,1080.4 586.4,1080.3 590.3,1080.0 594.2,1080.2 598.0,1080.1 601.9,1080.2 605.8,1080.2 609.7,1080.4 613.6,1080.4 617.5,1080.3 621.4,1080.4 625.2,1080.3 629.1,1080.5 633.0,1079.6 636.9,1079.9 640.8,1080.4 644.7,1080.4 648.6,1080.2 652.5,1080.4 656.3,1080.1 660.2,1080.3 664.1,1080.1 668.0,1080.3" class="ln" stroke="#ff00ff"/>
<polyline points="88.9,1080.5 92.8,1080.5 96.7,1080.5 100.5,1080.5 104.4,1080.5 108.3,1080.5 112.2,1080.5 116.1,1080.5 120.0,1080.5 123.9,1080.5 127.8,1080.5 131.6,1080.5 135.5,1080.5 139.4,1080.5 143.3,1080.5 147.2,1080.5 151.1,1080.5 155.0,1080.5 158.8,1080.5 162.7,1080.5 166.6,1080.5 170.5,1080.5 174.4,1080.5 178.3,1080.5 182.2,1080.5 186.1,1080.5 189.9,1080.5 193.8,1080.5 197.7,1080.5 201.6,1080.5 205.5,1080.5 209.4,1080.5 213.3,1080.5 217.1,1080.5 221.0,1080.5 224.9,1080.5 228.8,1080.5 232.7,1080.5 236.6,1080.5 240.5,1080.5 244.4,1080.5 248.2,1080.5 252.1,1080.5 256.0,1080.5 259.9,1080.5 263.8,1080.5 267.7,1080.5 271.6,1080.5 275.4,1080.5 279.3,1080.5 283.2,1080.5 287.1,1080.5 291.0,1080.5 294.9,1080.5 298.8,1080.5 302.7,1080.5 306.5,1080.5 310.4,1080.5 314.3,1080.5 318.2,1080.5 322.1,1080.5 326.0,1080.5 329.9,1080.5 333.7,1080.5 337.6,1080.5 341.5,1080.5 345.4,1080.5 349.3,1080.5 353.2,1080.5 357.1,1080.5 361.0,1080.5 364.8,1080.5 368.7,1080.5 372.6,1080.5 376.5,1080.5 380.4,1080.5 384.3,1080.5 388.2,1080.5 392.0,1080.5 395.9,1080.5 399.8,1080.5 403.7,1080.5 407.6,1080.5 411.5,1080.5 415.4,1080.5 419.3,1080.5 423.1,1080.5 427.0,1080.5 430.9,1080.5 434.8,1080.5 438.7,1080.5 442.6,1080.5 446.5,1080.5 450.3,1080.5 454.2,1080.5 458.1,1080.5 462.0,1080.5 465.9,1080.5 469.8,1080.5 473.7,1080.5 477.6,1080.5 481.4,1080.5 485.3,1080.5 489.2,1080.5 493.1,1080.5 497.0,1080.5 500.9,1080.5 504.8,1080.5 508.6,1080.5 512.5,1080.5 516.4,1080.5 520.3,1080.5 524.2,1080.5 528.1,1080.5 532.0,1080.5 535.9,1080.5 539.7,1080.5 543.6,1080.5 547.5,1080.5 551.4,1080.5 555.3,1080.5 559.2,1080.5 563.1,1080.5 566.9,1080.5 570.8,1080.5 574.7,1080.5 578.6,1080.5 582.5,1080.5 586.4,1080.5 590.3,1080.5 594.2,1080.5 598.0,1080.5 601.9,1080.5 605.8,1080.5 609.7,1080.5 613.6,1080.5 617.5,1080.5 621.4,1080.5 625.2,1080.5 629.1,1080.5 633.0,1080.5 636.9,1080.5 640.8,1080.5 644.7,1080.5 648.6,1080.5 652.5,1080.5 656.3,1080.5 660.2,1080.5 664.1,1080.5 668.0,1080.5" class="ln" stroke="#00ffff" stroke-dasharray="7.5 7.6"/>
<rect x="160.4" y="820.7" width="465.4" height="83.5" fill="#fff"/>
<line x1="160.4" y1="851.3" x2="625.8" y2="851.3" class="g"/>
<line x1="315.5" y1="820.7" x2="315.5" y2="904.2" class="g"/>
<line x1="470.7" y1="820.7" x2="470.7" y2="904.2" class="g"/>
<g class="ifr"><rect x="160.4" y="820.7" width="465.4" height="83.5" class="fr"/>
<line x1="160.4" y1="851.3" x2="165.4" y2="851.3" class="tk"/>
<line x1="625.8" y1="851.3" x2="620.8" y2="851.3" class="tk"/>
<line x1="315.5" y1="904.2" x2="315.5" y2="899.2" class="tk"/>
<line x1="315.5" y1="820.7" x2="315.5" y2="825.7" class="tk"/>
<line x1="470.7" y1="904.2" x2="470.7" y2="899.2" class="tk"/>
<line x1="470.7" y1="820.7" x2="470.7" y2="825.7" class="tk"/></g>
<polyline points="163.5,893.6 166.6,892.8 169.7,899.1 172.8,897.5 175.9,896.7 179.0,902.8 182.1,898.4 185.2,900.7 188.3,900.7 191.4,899.7 194.5,903.7 197.6,900.7 200.7,898.8 203.8,902.0 206.9,898.8 210.0,901.1 213.1,902.4 216.2,897.5 219.4,897.8 222.5,896.5 225.6,894.5 228.7,900.4 231.8,901.1 234.9,892.5 238.0,902.4 241.1,900.4 244.2,886.0 247.3,820.7 250.4,901.1 253.5,903.0 256.6,893.6 259.7,894.9 262.8,894.5 265.9,897.1 269.0,884.6 272.1,898.4 275.2,898.0 278.3,889.9 281.4,899.7 284.5,890.5 287.6,902.4 290.7,901.1 293.8,899.1 296.9,901.5 300.0,897.5 303.1,898.4 306.2,903.7 309.3,901.7 312.4,895.1 315.5,875.4 318.6,891.9 321.7,843.2 324.8,870.0 327.9,902.4 331.0,902.6 334.1,902.6 337.3,901.7 340.4,897.8 343.5,885.3 346.6,899.7 349.7,901.1 352.8,897.1 355.9,899.7 359.0,899.1 362.1,899.7 365.2,896.5 368.3,902.4 371.4,903.3 374.5,903.3 377.6,892.3 380.7,900.4 383.8,900.1 386.9,877.8 390.0,902.4 393.1,901.7 396.2,894.5 399.3,893.8 402.4,901.1 405.5,891.9 408.6,889.2 411.7,902.4 414.8,893.6 417.9,890.5 421.0,901.7 424.1,889.9 427.2,898.4 430.3,900.7 433.4,900.7 436.5,900.7 439.6,898.0 442.7,900.1 445.8,902.4 448.9,898.4 452.1,902.0 455.2,891.9 458.3,899.1 461.4,890.5 464.5,898.0 467.6,901.1 470.7,900.4 473.8,897.5 476.9,898.0 480.0,902.4 483.1,893.8 486.2,886.0 489.3,897.1 492.4,902.4 495.5,894.1 498.6,901.7 501.7,901.7 504.8,901.9 507.9,897.1 511.0,898.0 514.1,893.8 517.2,901.1 520.3,887.0 523.4,888.8 526.5,887.5 529.6,893.8 532.7,902.4 535.8,893.8 538.9,903.3 542.0,902.4 545.1,900.4 548.2,897.5 551.3,902.0 554.4,899.7 557.5,901.1 560.6,900.4 563.7,893.6 566.8,896.5 570.0,894.8 573.1,898.0 576.2,897.8 579.3,901.2 582.4,901.2 585.5,900.7 588.6,902.4 591.7,900.2 594.8,903.8 597.9,884.2 601.0,890.8 604.1,901.3 607.2,901.3 610.3,897.8 613.4,900.9 616.5,894.7 619.6,899.1 622.7,895.6 625.8,900.0" class="ln" stroke="#ff00ff"/>
<polyline points="163.5,904.2 166.6,904.2 169.7,904.2 172.8,904.2 175.9,904.2 179.0,904.2 182.1,904.2 185.2,904.2 188.3,904.2 191.4,904.2 194.5,904.2 197.6,904.2 200.7,904.2 203.8,904.2 206.9,904.2 210.0,904.2 213.1,904.2 216.2,904.2 219.4,904.2 222.5,904.2 225.6,904.2 228.7,904.2 231.8,904.2 234.9,904.2 238.0,904.2 241.1,904.2 244.2,904.2 247.3,904.2 250.4,904.2 253.5,904.2 256.6,904.2 259.7,904.2 262.8,904.2 265.9,904.2 269.0,904.2 272.1,904.2 275.2,904.2 278.3,904.2 281.4,904.2 284.5,904.2 287.6,904.2 290.7,904.2 293.8,904.2 296.9,904.2 300.0,904.2 303.1,904.2 306.2,904.2 309.3,904.2 312.4,904.2 315.5,904.2 318.6,904.2 321.7,904.2 324.8,904.2 327.9,904.2 331.0,904.2 334.1,904.2 337.3,904.2 340.4,904.2 343.5,904.2 346.6,904.2 349.7,904.2 352.8,904.2 355.9,904.2 359.0,904.2 362.1,904.2 365.2,904.2 368.3,904.2 371.4,904.2 374.5,904.2 377.6,904.2 380.7,904.2 383.8,904.2 386.9,904.2 390.0,904.2 393.1,904.2 396.2,904.2 399.3,904.2 402.4,904.2 405.5,904.2 408.6,904.2 411.7,904.2 414.8,904.2 417.9,904.2 421.0,904.2 424.1,904.2 427.2,904.2 430.3,904.2 433.4,904.2 436.5,904.2 439.6,904.2 442.7,904.2 445.8,904.2 448.9,904.2 452.1,904.2 455.2,904.2 458.3,904.2 461.4,904.2 464.5,904.2 467.6,904.2 470.7,904.2 473.8,904.2 476.9,904.2 480.0,904.2 483.1,904.2 486.2,904.2 489.3,904.2 492.4,904.2 495.5,904.2 498.6,904.2 501.7,904.2 504.8,904.2 507.9,904.2 511.0,904.2 514.1,904.2 517.2,904.2 520.3,904.2 523.4,904.2 526.5,904.2 529.6,904.2 532.7,904.2 535.8,904.2 538.9,904.2 542.0,904.2 545.1,904.2 548.2,904.2 551.3,904.2 554.4,904.2 557.5,904.2 560.6,904.2 563.7,904.2 566.8,904.2 570.0,904.2 573.1,904.2 576.2,904.2 579.3,904.2 582.4,904.2 585.5,904.2 588.6,904.2 591.7,904.2 594.8,904.2 597.9,904.2 601.0,904.2 604.1,904.2 607.2,904.2 610.3,904.2 613.4,904.2 616.5,904.2 619.6,904.2 622.7,904.2 625.8,904.2" class="ln" stroke="#00ffff" stroke-dasharray="7.6 8.3"/>
<text x="152.7" y="859.4" text-anchor="end" class="tl" style="font-size:23.5px">2</text>
<text x="152.9" y="912.4" text-anchor="end" class="tl" style="font-size:23.5px">0</text>
<text x="161.6" y="818.7" class="xx" style="font-size:27.5px">×</text><text x="178.4" y="816" class="ten" style="font-size:23px">10</text><text x="200.9" y="804.8" class="sup">-4</text>
<line x1="237.3" y1="1070.3" x2="272.1" y2="913.8" stroke="#f8bc0c" stroke-width="2"/><polygon points="274,905.3 265.2,917 277.3,918" fill="#f8bc0c" stroke="#f8bc0c" stroke-width="0.8" stroke-linejoin="round"/>
<rect x="90.6" y="628.6" width="574.4" height="25.7" class="lbox"/>
<line x1="94.3" y1="641.4" x2="131.7" y2="641.4" stroke="#0000ff" stroke-width="2.2"/>
<text x="135.1" y="648.9" class="lg">Inv-9</text>
<line x1="184.7" y1="641.4" x2="222" y2="641.4" stroke="#000000" stroke-width="2.2"/>
<text x="225.1" y="648.9" class="lg">Inv-21</text>
<line x1="283.5" y1="641.4" x2="321.8" y2="641.4" stroke="#ff0000" stroke-width="2.2" stroke-dasharray="7.6 7.4"/>
<text x="324.7" y="648.9" class="lg">Inv-27</text>
<line x1="383.6" y1="641.4" x2="420.9" y2="641.4" stroke="#00ff00" stroke-width="2.2"/>
<text x="424.2" y="648.9" class="lg">G-C</text>
<line x1="466.2" y1="641.4" x2="502.8" y2="641.4" stroke="#ff00ff" stroke-width="2.2"/>
<text x="505.8" y="648.9" class="lg">Perfect S</text>
<line x1="584.4" y1="641.4" x2="622.1" y2="641.4" stroke="#00ffff" stroke-width="2.2" stroke-dasharray="7.6 7.4"/>
<text x="624.4" y="648.9" class="lg">C-M</text>
<text x="78.1" y="1088.5" text-anchor="end" class="tl">0</text>
<text x="78.1" y="1031.3" text-anchor="end" class="tl">0.005</text>
<text x="78.1" y="974.0" text-anchor="end" class="tl">0.01</text>
<text x="78.1" y="916.8" text-anchor="end" class="tl">0.015</text>
<text x="78.1" y="859.5" text-anchor="end" class="tl">0.02</text>
<text x="78.1" y="802.3" text-anchor="end" class="tl">0.025</text>
<text x="78.1" y="745.1" text-anchor="end" class="tl">0.03</text>
<text x="78.1" y="687.8" text-anchor="end" class="tl">0.035</text>
<text x="78.1" y="630.6" text-anchor="end" class="tl">0.04</text>
<text x="85.0" y="1108" text-anchor="middle" class="tl">0</text>
<text x="279.3" y="1108" text-anchor="middle" class="tl">50</text>
<text x="473.7" y="1108" text-anchor="middle" class="tl">100</text>
<text x="668.0" y="1108" text-anchor="middle" class="tl">150</text>
<text x="378" y="1130" text-anchor="middle" class="al">Configuration Number</text>
<text transform="translate(18,845.5) rotate(-90)" text-anchor="middle" class="al">Residual Position Error (m)</text>
<text x="376" y="1169" text-anchor="middle" class="cap">(b)</text>
</svg>
</body></html>
